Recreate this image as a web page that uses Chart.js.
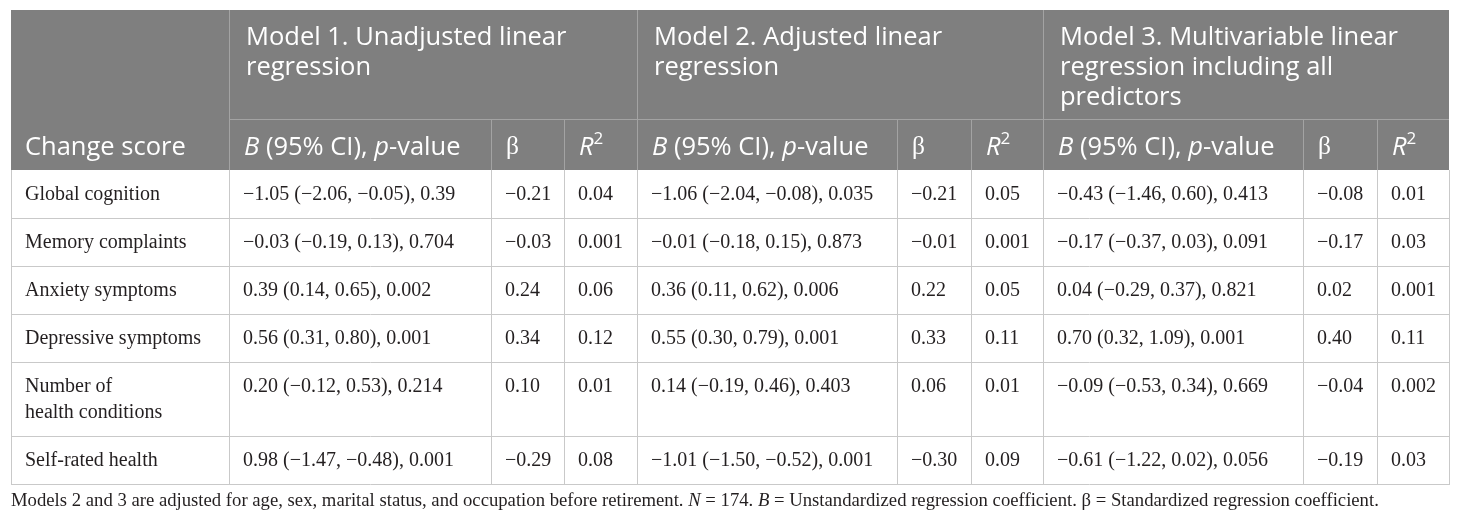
<!DOCTYPE html>
<html>

<head>
    <title>Change score regressions</title>
    <script src="https://cdn.jsdelivr.net/npm/chart.js@4.4.0/dist/chart.umd.min.js"></script>
    <style>
        body {
            margin: 0;
            background: #ffffff;
        }

        #table-wrap {
            position: relative;
            width: 1460px;
            height: 524px;
        }
    </style>
</head>

<body>
    <div id="table-wrap"><canvas id="table-canvas"></canvas></div>
    <script>
        // Table data
        var rowLabels = [
            ['Global cognition'],
            ['Memory complaints'],
            ['Anxiety symptoms'],
            ['Depressive symptoms'],
            ['Number of', 'health conditions'],
            ['Self-rated health']
        ];

        var model1B = ['\u22121.05 (\u22122.06, \u22120.05), 0.39', '\u22120.03 (\u22120.19, 0.13), 0.704', '0.39 (0.14, 0.65), 0.002',
            '0.56 (0.31, 0.80), 0.001', '0.20 (\u22120.12, 0.53), 0.214', '0.98 (\u22121.47, \u22120.48), 0.001'];
        var model1Beta = ['\u22120.21', '\u22120.03', '0.24', '0.34', '0.10', '\u22120.29'];
        var model1R2 = ['0.04', '0.001', '0.06', '0.12', '0.01', '0.08'];

        var model2B = ['\u22121.06 (\u22122.04, \u22120.08), 0.035', '\u22120.01 (\u22120.18, 0.15), 0.873', '0.36 (0.11, 0.62), 0.006',
            '0.55 (0.30, 0.79), 0.001', '0.14 (\u22120.19, 0.46), 0.403', '\u22121.01 (\u22121.50, \u22120.52), 0.001'];
        var model2Beta = ['\u22120.21', '\u22120.01', '0.22', '0.33', '0.06', '\u22120.30'];
        var model2R2 = ['0.05', '0.001', '0.05', '0.11', '0.01', '0.09'];

        var model3B = ['\u22120.43 (\u22121.46, 0.60), 0.413', '\u22120.17 (\u22120.37, 0.03), 0.091', '0.04 (\u22120.29, 0.37), 0.821',
            '0.70 (0.32, 1.09), 0.001', '\u22120.09 (\u22120.53, 0.34), 0.669', '\u22120.61 (\u22121.22, 0.02), 0.056'];
        var model3Beta = ['\u22120.08', '\u22120.17', '0.02', '0.40', '\u22120.04', '\u22120.19'];
        var model3R2 = ['0.01', '0.03', '0.001', '0.11', '0.002', '0.03'];

        var modelTitles = [
            ['Model 1. Unadjusted linear', 'regression'],
            ['Model 2. Adjusted linear', 'regression'],
            ['Model 3. Multivariable linear', 'regression including all', 'predictors']
        ];
        var firstHeader = 'Change score';
        // rich text pieces: [text, italic, superscript, serif]
        var subHeaders = [
            [['B', true], [' (95% CI), '], ['p', true], ['-value']],
            [['\u03b2', false, false, true]],
            [['R', true], ['2', false, true]]
        ];
        var footnote = [['Models 2 and 3 are adjusted for age, sex, marital status, and occupation before retirement. '], ['N', true],
            [' = 174. '], ['B', true], [' = Unstandardized regression coefficient. \u03b2 = Standardized regression coefficient.']];

        // Layout (column widths and row heights in scale units)
        var colWidths = [218, 262, 73, 73, 260, 74, 72, 260, 74, 72];
        var rowHeights = [109, 51, 48, 48, 48, 48, 74, 48];
        var headerFont = '"Open Sans", Lato, sans-serif';
        var bodyFont = '"Liberation Serif", "DejaVu Serif", serif';
        var headerSize = 25.5, bodySize = 20, noteSize = 18.7;

        function edges(sizes) {
            var out = [0];
            sizes.forEach(function(s) { out.push(out[out.length - 1] + s); });
            return out;
        }
        var colEdges = edges(colWidths);
        var rowEdges = edges(rowHeights);

        function drawRich(ctx, parts, x, y, size, family) {
            parts.forEach(function(p) {
                var fs = p[2] ? Math.round(size * 0.66) : size;
                var fam = p[3] ? bodyFont : family;
                ctx.font = (p[1] ? 'italic ' : '') + fs + 'px ' + fam;
                ctx.fillText(p[0], x, p[2] ? y - size * 0.32 : y);
                x += ctx.measureText(p[0]).width;
            });
        }

        function hLine(ctx, x1, x2, y) {
            ctx.beginPath();
            ctx.moveTo(x1, Math.round(y) + 0.5);
            ctx.lineTo(x2, Math.round(y) + 0.5);
            ctx.stroke();
        }

        function vLine(ctx, x, y1, y2) {
            ctx.beginPath();
            ctx.moveTo(Math.round(x) + 0.5, y1);
            ctx.lineTo(Math.round(x) + 0.5, y2);
            ctx.stroke();
        }

        var tablePlugin = {
            id: 'tablePlugin',
            afterDraw: function(chart) {
                var ctx = chart.ctx;
                var xs = chart.scales.x, ys = chart.scales.y;
                var X = function(i) { return xs.getPixelForValue(colEdges[i]); };
                var Y = function(i) { return ys.getPixelForValue(rowEdges[i]); };
                var pad = 15;
                var bodyCols = [model1B, model1Beta, model1R2, model2B, model2Beta, model2R2, model3B, model3Beta, model3R2];

                ctx.save();
                ctx.textBaseline = 'middle';
                ctx.textAlign = 'left';

                // header background
                ctx.fillStyle = '#7f7f7f';
                ctx.fillRect(X(0), Y(0), X(colWidths.length) - X(0), Y(2) - Y(0));

                // header lines
                ctx.strokeStyle = '#a3a3a3';
                ctx.lineWidth = 1;
                hLine(ctx, X(1), X(10), Y(1));
                [1, 4, 7].forEach(function(c) { vLine(ctx, X(c), Y(0), Y(2)); });
                [2, 3, 5, 6, 8, 9].forEach(function(c) { vLine(ctx, X(c), Y(1), Y(2)); });

                // header text
                ctx.fillStyle = '#ffffff';
                var midHead = (Y(1) + Y(2)) / 2 + 3;
                ctx.font = headerSize + 'px ' + headerFont;
                ctx.fillText(firstHeader, X(0) + pad - 1, midHead);
                modelTitles.forEach(function(lines, m) {
                    lines.forEach(function(t, k) {
                        ctx.font = headerSize + 'px ' + headerFont;
                        ctx.fillText(t, X(1 + m * 3) + pad + 2, Y(0) + 28 + k * 30);
                    });
                    subHeaders.forEach(function(parts, j) {
                        drawRich(ctx, parts, X(1 + m * 3 + j) + pad, midHead, headerSize, headerFont);
                    });
                });

                // body grid
                ctx.strokeStyle = '#c9c9c9';
                for (var r = 3; r <= rowHeights.length; r++) {
                    hLine(ctx, X(0), X(10), Y(r));
                }
                for (var c = 0; c <= colWidths.length; c++) {
                    vLine(ctx, X(c), Y(2), Y(rowHeights.length) + 1);
                }

                // body text
                ctx.fillStyle = '#231f20';
                ctx.font = bodySize + 'px ' + bodyFont;
                rowLabels.forEach(function(lines, r) {
                    var top = Y(r + 2);
                    lines.forEach(function(t, k) {
                        ctx.fillText(t, X(0) + pad - 1, top + 25 + k * 26);
                    });
                    bodyCols.forEach(function(col, c) {
                        ctx.fillText(col[r], X(c + 1) + pad - 1, top + 25);
                    });
                });

                // footnote
                drawRich(ctx, footnote, X(0), Y(rowHeights.length) + 17, noteSize, bodyFont);
                ctx.restore();
            }
        };

        var ctx = document.getElementById('table-canvas').getContext('2d');
        var tableChart = new Chart(ctx, {
            type: 'scatter',
            data: { datasets: [] },
            options: {
                responsive: true,
                maintainAspectRatio: false,
                animation: false,
                events: [],
                layout: { padding: { left: 11, right: 11, top: 10, bottom: 40 } },
                plugins: { legend: { display: false }, tooltip: { enabled: false } },
                scales: {
                    x: { type: 'linear', display: false, min: 0, max: colEdges[colEdges.length - 1] },
                    y: { type: 'linear', display: false, reverse: true, min: 0, max: rowEdges[rowEdges.length - 1] }
                }
            },
            plugins: [tablePlugin]
        });
    </script>
</body>

</html>
